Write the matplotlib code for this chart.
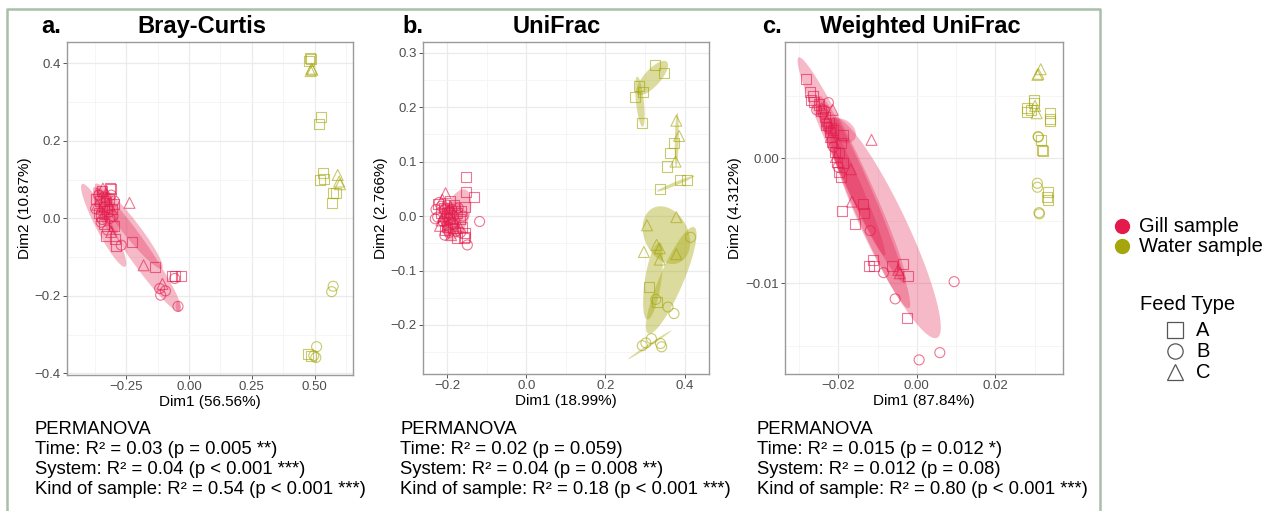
import numpy as np
import matplotlib
matplotlib.use("Agg")
import matplotlib.pyplot as plt
from matplotlib.lines import Line2D

plt.rcParams['font.family'] = ['Liberation Sans', 'DejaVu Sans']

GILL = "#E31A4B"
WATER = "#A5A60C"
MARKERS = {"A": "s", "B": "o", "C": "^"}

# ---------------- data ----------------
panel_letters = ["a.", "b.", "c."]
panel_titles = ["Bray-Curtis", "UniFrac", "Weighted UniFrac"]
xlabels = ["Dim1 (56.56%)", "Dim1 (18.99%)", "Dim1 (87.84%)"]
ylabels = ["Dim2 (10.87%)", "Dim2 (2.766%)", "Dim2 (4.312%)"]

xticks_a = [-0.25, 0.0, 0.25, 0.50]
xticklabels_a = ["\u22120.25", "0.00", "0.25", "0.50"]
yticks_a = [-0.4, -0.2, 0.0, 0.2, 0.4]
yticklabels_a = ["\u22120.4", "\u22120.2", "0.0", "0.2", "0.4"]
xticks_b = [-0.2, 0.0, 0.2, 0.4]
xticklabels_b = ["\u22120.2", "0.0", "0.2", "0.4"]
yticks_b = [-0.2, -0.1, 0.0, 0.1, 0.2, 0.3]
yticklabels_b = ["\u22120.2", "\u22120.1", "0.0", "0.1", "0.2", "0.3"]
xticks_c = [-0.02, 0.0, 0.02]
xticklabels_c = ["\u22120.02", "0.00", "0.02"]
yticks_c = [-0.01, 0.0]
yticklabels_c = ["\u22120.01", "0.00"]

# Bray-Curtis ordination
gill_a_x = [-0.237, -0.316, -0.310, -0.300, -0.330, -0.293, -0.290, -0.270, -0.227, -0.181,
            -0.134, -0.106, -0.117, -0.094, -0.113, -0.066, -0.055, -0.031, -0.057, -0.044,
            -0.343, -0.303, -0.350, -0.345,
            -0.370, -0.365, -0.360, -0.355, -0.350, -0.345, -0.340, -0.338, -0.335, -0.330,
            -0.328, -0.325, -0.320, -0.318, -0.315, -0.310, -0.305, -0.360, -0.372, -0.352,
            -0.340, -0.325, -0.310, -0.300, -0.298]
gill_a_y = [0.040, 0.079, 0.077, 0.037, -0.045, -0.054, -0.071, -0.069, -0.060, -0.121,
            -0.125, -0.169, -0.181, -0.187, -0.198, -0.149, -0.149, -0.149, -0.155, -0.227,
            0.077, 0.006, -0.010, -0.003,
            0.050, 0.035, 0.060, 0.045, 0.025, 0.070, 0.055, 0.030, 0.015, 0.065,
            0.045, 0.020, 0.050, 0.035, 0.000, 0.060, 0.025, 0.015, 0.025, 0.005,
            -0.015, -0.030, -0.035, -0.020, 0.045]
gill_a_feed = list("CAAAAAABACACBBBAAABBCBBB" "ACBACABACCBAACBBAABAABCABA")
water_a_x = [0.481, 0.486, 0.478, 0.488, 0.484, 0.491, 0.524, 0.519, 0.535, 0.521, 0.537,
             0.592, 0.598, 0.601, 0.574, 0.585, 0.568, 0.574, 0.568, 0.508, 0.497, 0.505,
             0.475, 0.484]
water_a_y = [0.413, 0.410, 0.405, 0.386, 0.380, 0.383, 0.262, 0.243, 0.116, 0.099, 0.101,
             0.112, 0.095, 0.088, 0.066, 0.066, 0.039, -0.175, -0.189, -0.331, -0.354, -0.359,
             -0.350, -0.355]
water_a_feed = list("AAACCCAAAAACCCAAABBBBBAA")

# UniFrac ordination
gill_b_x = [-0.228, -0.224, -0.220, -0.218, -0.215, -0.212, -0.210, -0.208, -0.205, -0.204,
            -0.202, -0.200, -0.198, -0.196, -0.195, -0.193, -0.190, -0.190, -0.188, -0.186,
            -0.184, -0.182, -0.180, -0.178, -0.176, -0.174, -0.172, -0.170, -0.168, -0.166,
            -0.164, -0.162, -0.160, -0.158, -0.156, -0.156, -0.156, -0.152, -0.152, -0.133,
            -0.118, -0.149, -0.206, -0.222, -0.214, -0.200, -0.206, -0.196, -0.210, -0.192,
            -0.185, -0.200, -0.230, -0.215]
gill_b_y = [0.012, -0.002, 0.025, -0.018, 0.005, 0.030, -0.010, 0.015, -0.025, 0.042,
            0.000, 0.020, -0.015, 0.008, -0.030, 0.028, -0.005, -0.035, 0.012, -0.022,
            0.000, 0.020, -0.012, -0.028, 0.006, -0.040, 0.015, -0.018, -0.005, -0.030,
            0.010, -0.020, 0.000, -0.040, -0.032, -0.039, 0.016, 0.071, 0.045, 0.035,
            -0.010, -0.053, -0.035, 0.022, -0.008, 0.006, 0.012, -0.006, 0.000, 0.016,
            -0.015, -0.020, -0.005, 0.018]
gill_b_feed = list("BBBCACBAACBBCABACCBABACBAABCABAABAAAAAAABBBACABACCBABB")
water_b_x = [0.324, 0.347, 0.285, 0.295, 0.274, 0.293, 0.379, 0.386, 0.377, 0.372, 0.362,
             0.356, 0.388, 0.406, 0.337, 0.379, 0.305, 0.329, 0.337, 0.297, 0.337, 0.379,
             0.415, 0.309, 0.331, 0.327, 0.358, 0.373, 0.293, 0.302, 0.316, 0.339, 0.342]
water_b_y = [0.277, 0.263, 0.238, 0.227, 0.218, 0.170, 0.175, 0.147, 0.100, 0.135, 0.115,
             0.091, 0.067, 0.066, 0.049, -0.002, -0.017, -0.053, -0.059, -0.066, -0.080, -0.070,
             -0.039, -0.131, -0.157, -0.153, -0.167, -0.179, -0.238, -0.233, -0.225, -0.234, -0.240]
water_b_feed = list("AAAAAACCCAAAAAACCCCCCCBAABBBBBBBB")

# Weighted UniFrac ordination
gill_c_x = [-0.0281, -0.0272, -0.0270, -0.0261, -0.0265, -0.0225, -0.0255, -0.0236, -0.0214,
            -0.0223, -0.0214, -0.0189, -0.0193, -0.0197, -0.0189, -0.0193, -0.0191, -0.01153,
            -0.0168, -0.0165, -0.01364, -0.01339, -0.01568, -0.01186, -0.01127, -0.01212,
            -0.01102, -0.00847, -0.00644, -0.00364, -0.00237, -0.00475, -0.00432, 0.00949,
            -0.00551, -0.00254, 0.00585, 0.00059,
            -0.0248, -0.0242, -0.0238, -0.0233, -0.0229, -0.0226, -0.0222, -0.0219, -0.0215,
            -0.0212, -0.0209, -0.0206, -0.0203, -0.0200, -0.0197, -0.0231, -0.0218, -0.0245]
gill_c_y = [0.00632, 0.00533, 0.00467, 0.00453, 0.00500, 0.00445, 0.00387, 0.00387, 0.00387,
            0.00280, 0.00227, 0.00187, 0.00120, 0.00040, -0.00040, -0.00147, -0.00419, 0.00147,
            -0.00088, -0.00347, -0.00365, -0.00440, -0.00525, -0.00579, -0.00813, -0.00861,
            -0.00861, -0.00915, -0.00859, -0.00848, -0.00941, -0.00893, -0.00920, -0.00987,
            -0.01125, -0.01280, -0.01555, -0.01613,
            0.0043, 0.0040, 0.0036, 0.0033, 0.0030, 0.0025, 0.0021, 0.0017, 0.0013,
            0.0009, 0.0005, 0.0001, -0.0003, -0.0007, -0.0011, 0.0027, 0.0024, 0.0038]
gill_c_feed = list("AAAAABBBCAAAAAAAACCCAAABAAABAAACCBBABB" "ACBACBACABACABAAAA")
water_c_x = [0.03153, 0.03093, 0.03068, 0.02983, 0.02983, 0.02797, 0.02797, 0.02898, 0.03008,
             0.03051, 0.03381, 0.03381, 0.03381, 0.03085, 0.03095, 0.03170, 0.03195, 0.03212,
             0.03068, 0.03068, 0.03347, 0.03322, 0.03339, 0.03110, 0.03120]
water_c_y = [0.00712, 0.00675, 0.00667, 0.00467, 0.00440, 0.00400, 0.00373, 0.00387, 0.00419,
             0.00360, 0.00360, 0.00312, 0.00301, 0.00173, 0.00170, 0.00147, 0.00067, 0.00061,
             -0.00200, -0.00232, -0.00267, -0.00312, -0.00333, -0.00435, -0.00445]
water_c_feed = list("CCCAAAAACCAAABBAAABBAAABB")

# confidence ellipses: centre x, centre y, half x-extent, half y-extent, correlation
ell_a_gill = [(-0.340, -0.018, 0.090, 0.107, -0.92),
              (-0.207, -0.080, 0.176, 0.161, -0.955),
              (-0.240, -0.020, 0.135, 0.110, -0.95),
              (-0.330, 0.020, 0.050, 0.060, -0.65),
              (-0.044, -0.227, 0.010, 0.013, 0.0)]
ell_a_water = []
ell_b_gill = [(-0.175, 0.002, 0.036, 0.047, 0.45),
              (-0.188, -0.005, 0.026, 0.032, 0.30),
              (-0.200, 0.000, 0.018, 0.022, 0.20)]
ell_b_water = [(0.318, 0.2535, 0.040, 0.0315, 0.75),
               (0.287, 0.210, 0.012, 0.046, -0.55),
               (0.380, 0.140, 0.005, 0.050, 0.30),
               (0.3775, 0.0595, 0.0475, 0.0145, 0.97),
               (0.354, -0.035, 0.060, 0.053, -0.25),
               (0.366, -0.118, 0.064, 0.098, 0.86),
               (0.320, -0.120, 0.025, 0.070, 0.55),
               (0.312, -0.2365, 0.055, 0.0265, 0.995)]
ell_c_gill = [(-0.01657, -0.00096, 0.01378, 0.00904, -0.97),
              (-0.0081, -0.00555, 0.0142, 0.00885, -0.90),
              (-0.0190, 0.0022, 0.0035, 0.0010, -0.30),
              (-0.0135, -0.0035, 0.0118, 0.0085, -0.96),
              (-0.0170, -0.0015, 0.0090, 0.0063, -0.975)]
ell_c_water = []

permanova = [
    ["PERMANOVA", "Time: R\u00b2 = 0.03 (p = 0.005 **)", "System: R\u00b2 = 0.04 (p < 0.001 ***)",
     "Kind of sample: R\u00b2 = 0.54 (p < 0.001 ***)"],
    ["PERMANOVA", "Time: R\u00b2 = 0.02 (p = 0.059)", "System: R\u00b2 = 0.04 (p = 0.008 **)",
     "Kind of sample: R\u00b2 = 0.18 (p < 0.001 ***)"],
    ["PERMANOVA", "Time: R\u00b2 = 0.015 (p = 0.012 *)", "System: R\u00b2 = 0.012 (p = 0.08)",
     "Kind of sample: R\u00b2 = 0.80 (p < 0.001 ***)"],
]

sample_labels = ["Gill sample", "Water sample"]
feed_title = "Feed Type"
feed_labels = ["A", "B", "C"]

# ---------------- figure ----------------
W, H = 1277, 511
fig = plt.figure(figsize=(W / 100, H / 100), dpi=100)


def fx(px):
    return px / W


def fy(py):
    return 1 - py / H


boxes = [(67, 42, 353, 375), (423, 42, 709, 374), (785, 42, 1063, 374)]
xlims = [(-0.486, 0.653), (-0.261, 0.4615), (-0.03355, 0.0372)]
ylims = [(-0.404, 0.455), (-0.29, 0.3196), (-0.01726, 0.0093)]
xminor = [[-0.375, -0.125, 0.125, 0.375, 0.625], [-0.1, 0.1, 0.3], [-0.03, -0.01, 0.01, 0.03]]
yminor = [[-0.3, -0.1, 0.1, 0.3], [-0.25, -0.15, -0.05, 0.05, 0.15, 0.25], [-0.015, -0.005, 0.005]]
xt = [(xticks_a, xticklabels_a), (xticks_b, xticklabels_b), (xticks_c, xticklabels_c)]
yt = [(yticks_a, yticklabels_a), (yticks_b, yticklabels_b), (yticks_c, yticklabels_c)]
gills = [(gill_a_x, gill_a_y, gill_a_feed), (gill_b_x, gill_b_y, gill_b_feed),
         (gill_c_x, gill_c_y, gill_c_feed)]
waters = [(water_a_x, water_a_y, water_a_feed), (water_b_x, water_b_y, water_b_feed),
          (water_c_x, water_c_y, water_c_feed)]
ells = [(ell_a_gill, ell_a_water), (ell_b_gill, ell_b_water), (ell_c_gill, ell_c_water)]
text_x = [35, 400, 757]
title_cx = [202, 557, 920]
letter_x = [41, 402, 762]


def draw_ellipse(ax, params, color, alpha):
    cx, cy, hx, hy, rho = params
    t = np.linspace(0, 2 * np.pi, 240)
    ex = cx + hx * np.cos(t)
    ey = cy + hy * (rho * np.cos(t) + np.sqrt(1 - rho ** 2) * np.sin(t))
    ax.fill(ex, ey, color=color, alpha=alpha, lw=0, zorder=2)


for i in range(3):
    l, t, r, b = boxes[i]
    ax = fig.add_axes([fx(l), fy(b), fx(r - l), (b - t) / H])
    ax.set_xlim(*xlims[i])
    ax.set_ylim(*ylims[i])
    ax.set_xticks(xt[i][0])
    ax.set_xticklabels(xt[i][1])
    ax.set_yticks(yt[i][0])
    ax.set_yticklabels(yt[i][1])
    ax.set_xticks(xminor[i], minor=True)
    ax.set_yticks(yminor[i], minor=True)
    ax.grid(True, which="major", color="#EBEBEB", lw=0.9, zorder=0)
    ax.grid(True, which="minor", color="#F4F4F4", lw=0.6, zorder=0)
    ax.set_axisbelow(True)
    ax.tick_params(which="major", length=3, width=0.7, color="#555555",
                   labelsize=9.5, labelcolor="#4D4D4D", pad=1.5)
    ax.tick_params(which="minor", length=0)
    for s in ax.spines.values():
        s.set_color("#9A9A9A")
        s.set_linewidth(1.0)
    ax.set_xlabel(xlabels[i], fontsize=11, labelpad=1)
    ax.set_ylabel(ylabels[i], fontsize=11, labelpad=2)

    for p in ells[i][0]:
        draw_ellipse(ax, p, GILL, 0.30)
    for p in ells[i][1]:
        draw_ellipse(ax, p, WATER, 0.40)

    for (xs, ys, fs), col in ((gills[i], GILL), (waters[i], WATER)):
        for code, mk in MARKERS.items():
            px = [x for x, f in zip(xs, fs) if f == code]
            py = [y for y, f in zip(ys, fs) if f == code]
            ax.scatter(px, py, marker=mk, s=52 if mk != "^" else 62, facecolors="none",
                       edgecolors=col, linewidths=0.8, alpha=0.6, zorder=3)

    fig.text(fx(letter_x[i]), fy(33), panel_letters[i], fontsize=17, fontweight="bold",
             ha="left", va="baseline")
    fig.text(fx(title_cx[i]), fy(33), panel_titles[i], fontsize=17, fontweight="bold",
             ha="center", va="baseline")
    for k, line in enumerate(permanova[i]):
        fig.text(fx(text_x[i]), fy(434 + k * 20), line, fontsize=13.3, ha="left",
                 va="baseline")

# outer frame (open at the bottom)
fig.add_artist(Line2D([fx(7), fx(7), fx(1100), fx(1100)], [0, fy(9), fy(9), 0],
                      transform=fig.transFigure, color="#A9BFA9", lw=1.8))

# legend: kind of sample
for k, (lab, col) in enumerate(zip(sample_labels, [GILL, WATER])):
    yy = fy(226 + k * 20)
    fig.add_artist(Line2D([fx(1122)], [yy], transform=fig.transFigure, marker="o",
                          markersize=10, color=col, lw=0))
    fig.text(fx(1139), yy, lab, fontsize=14.5, ha="left", va="center")

# legend: feed type
fig.text(fx(1140), fy(304), feed_title, fontsize=14.5, ha="left", va="center")
for k, (lab, code) in enumerate(zip(feed_labels, ["A", "B", "C"])):
    yy = fy(330 + k * 21)
    fig.add_artist(Line2D([fx(1175)], [yy], transform=fig.transFigure,
                          marker=MARKERS[code], markersize=11 if code != "C" else 12,
                          markerfacecolor="none", markeredgecolor="#555555",
                          markeredgewidth=0.9, lw=0))
    fig.text(fx(1196), yy, lab, fontsize=14.5, ha="left", va="center")

fig.savefig("out.png", dpi=100)
